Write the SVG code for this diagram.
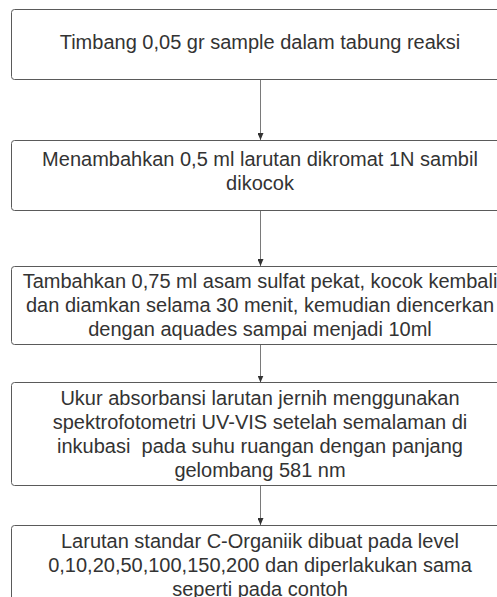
<svg xmlns="http://www.w3.org/2000/svg" width="497" height="597" viewBox="0 0 497 597">
<style>
.box{fill:#ffffff;stroke:#5a5a5a;stroke-width:1}
.t{font-family:"Liberation Sans",Arial,sans-serif;font-size:20px;fill:#333333;text-anchor:middle;white-space:pre}
.c{stroke:#7a7a7a;stroke-width:1;fill:none;marker-end:url(#ah)}
</style>
<defs>
<marker id="ah" markerWidth="7" markerHeight="6" refX="7" refY="3" orient="auto" markerUnits="userSpaceOnUse" viewBox="0 0 7 6">
<path d="M0,0 L7,3 L0,6 Z" fill="#333333"/>
</marker>
</defs>
<rect width="497" height="597" fill="#ffffff"/>
<g id="connectors">
<line class="c" x1="260.5" y1="79.5" x2="260.5" y2="140"/>
<line class="c" x1="260.5" y1="210.5" x2="260.5" y2="266"/>
<line class="c" x1="260.5" y1="344.5" x2="260.5" y2="382.5"/>
<line class="c" x1="260.5" y1="485.5" x2="260.5" y2="525"/>
</g>
<g id="node1">
<rect class="box" x="11.5" y="9.5" width="498" height="70" rx="3"/>
<text class="t" x="260" y="48.5">Timbang 0,05 gr sample dalam tabung reaksi</text>
</g>
<g id="node2">
<rect class="box" x="11.5" y="140.5" width="498" height="70" rx="3"/>
<text class="t" x="260" y="166">Menambahkan 0,5 ml larutan dikromat 1N sambil</text>
<text class="t" x="260" y="190">dikocok</text>
</g>
<g id="node3">
<rect class="box" x="11.5" y="266.5" width="498" height="78" rx="3"/>
<text class="t" x="260" y="288">Tambahkan 0,75 ml asam sulfat pekat, kocok kembali</text>
<text class="t" x="260" y="312">dan diamkan selama 30 menit, kemudian diencerkan</text>
<text class="t" x="260" y="336">dengan aquades sampai menjadi 10ml</text>
</g>
<g id="node4">
<rect class="box" x="11.5" y="382.5" width="498" height="103" rx="3"/>
<text class="t" x="260" y="404.5">Ukur absorbansi larutan jernih menggunakan</text>
<text class="t" x="260" y="428.5">spektrofotometri UV-VIS setelah semalaman di</text>
<text class="t" x="260" y="452.5" xml:space="preserve">inkubasi  pada suhu ruangan dengan panjang</text>
<text class="t" x="260" y="476.5">gelombang 581 nm</text>
</g>
<g id="node5">
<rect class="box" x="11.5" y="525.5" width="498" height="90" rx="3"/>
<text class="t" x="260" y="548">Larutan standar C-Organiik dibuat pada level</text>
<text class="t" x="260" y="572">0,10,20,50,100,150,200 dan diperlakukan sama</text>
<text class="t" x="260" y="596">seperti pada contoh</text>
</g>
</svg>
